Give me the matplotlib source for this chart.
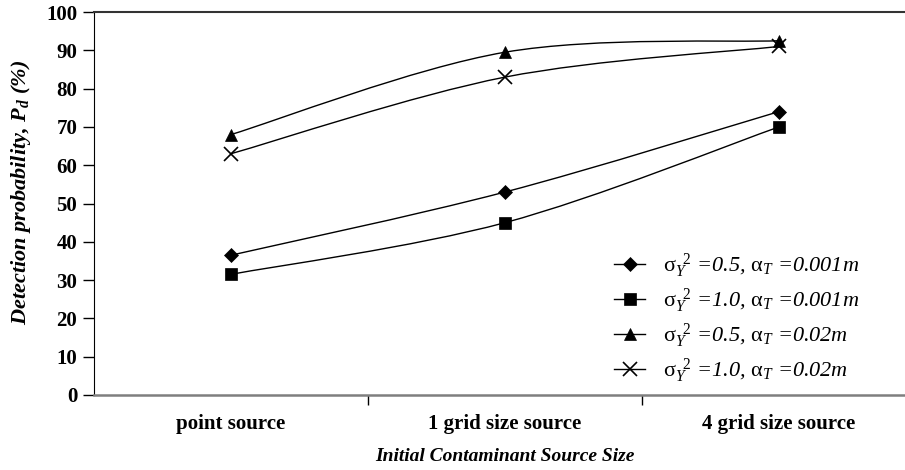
import numpy as np
import matplotlib
matplotlib.use("Agg")
import matplotlib.pyplot as plt
from matplotlib.path import Path
from matplotlib.patches import PathPatch
from matplotlib.lines import Line2D

plt.rcParams['font.family'] = ['Liberation Serif', 'DejaVu Serif']
plt.rcParams['mathtext.fontset'] = 'custom'
plt.rcParams['mathtext.rm'] = 'Liberation Serif'
plt.rcParams['mathtext.it'] = 'Liberation Serif:italic'
plt.rcParams['mathtext.bf'] = 'Liberation Serif:bold'
plt.rcParams['mathtext.bfit'] = 'Liberation Serif:italic:bold'

categories = ['point source', '1 grid size source', '4 grid size source']
s05_001 = [36.5, 53, 74]     # sigma^2=0.5, alpha=0.001m
s10_001 = [31.5, 45, 70]     # sigma^2=1.0, alpha=0.001m
s05_002 = [68, 89.5, 92.5]   # sigma^2=0.5, alpha=0.02m
s10_002 = [63, 83, 91]       # sigma^2=1.0, alpha=0.02m

labels = [r'$\mathrm{\sigma}_{Y}^{\ \ 2}$ =0.5, $\mathrm{\alpha}_{T}$ =0.001m',
          r'$\mathrm{\sigma}_{Y}^{\ \ 2}$ =1.0, $\mathrm{\alpha}_{T}$ =0.001m',
          r'$\mathrm{\sigma}_{Y}^{\ \ 2}$ =0.5, $\mathrm{\alpha}_{T}$ =0.02m',
          r'$\mathrm{\sigma}_{Y}^{\ \ 2}$ =1.0, $\mathrm{\alpha}_{T}$ =0.02m']
markers = ['D', 's', '^', 'x']
msizes = [7.5, 8, 9, 9.5]


def smooth_path(x, y):
    # Excel style smoothed line: cubic bezier through the points
    pts = np.column_stack([x, y]).astype(float)
    n = len(pts)
    verts = [pts[0]]
    codes = [Path.MOVETO]
    for i in range(n - 1):
        p0 = pts[max(i - 1, 0)]
        p1 = pts[i]
        p2 = pts[i + 1]
        p3 = pts[min(i + 2, n - 1)]
        c1 = p1 + (p2 - p0) / 6
        c2 = p2 - (p3 - p1) / 6
        verts += [c1, c2, p2]
        codes += [Path.CURVE4] * 3
    return Path(verts, codes)


fig = plt.figure(figsize=(9.05, 4.7), dpi=100)
ax = fig.add_axes([94 / 905, 75 / 470, 822 / 905, 383 / 470])

x = np.arange(len(categories))
handles = []
for vals, m, ms, lab in zip([s05_001, s10_001, s05_002, s10_002], markers, msizes, labels):
    ax.add_patch(PathPatch(smooth_path(x, vals), facecolor='none', edgecolor='black', lw=1.0))
    ax.plot(x, vals, linestyle='none', marker=m, color='black', markersize=ms,
            markeredgewidth=1.2 if m == 'x' else 0.5)
    handles.append(Line2D([], [], color='black', lw=1.0, marker=m, markersize=ms,
                          markeredgewidth=1.2 if m == 'x' else 0.5, label=lab))

ax.set_xlim(-0.5, 2.5)
ax.set_ylim(0, 100)
ax.set_yticks(np.arange(0, 101, 10))
ax.set_xticks(x)
ax.set_xticklabels(categories, fontsize=15, fontweight='bold')
ax.set_xticks([0.5, 1.5], minor=True)
ax.tick_params(axis='x', which='major', length=0, pad=14)
ax.tick_params(axis='x', which='minor', length=7, direction='out', width=1)
ax.tick_params(axis='y', length=8, direction='out', width=1, labelsize=15, pad=4)
for t in ax.get_yticklabels():
    t.set_fontweight('bold')

ax.spines['bottom'].set_color('#7f7f7f')
ax.spines['bottom'].set_linewidth(1.8)
ax.spines['top'].set_linewidth(1.5)
ax.spines['top'].set_color('#333333')

ax.set_xlabel('Initial Contaminant Source Size', fontsize=14, fontweight='bold',
              style='italic', labelpad=10)
ax.set_ylabel(r'Detection probability, $\mathbfit{P}_{\mathbfit{d}}$ (%)', fontsize=16,
              fontweight='bold', style='italic')
ax.yaxis.set_label_coords(-0.074, 0.53)

leg = ax.legend(handles=handles, loc='upper left', bbox_to_anchor=(614 / 905, 1 - 251 / 470),
                bbox_transform=fig.transFigure, frameon=False,
                prop={'style': 'italic', 'size': 16}, labelspacing=0.28,
                handlelength=1.4, handletextpad=0.8, borderpad=0, borderaxespad=0)

fig.savefig('out.png', dpi=100)
